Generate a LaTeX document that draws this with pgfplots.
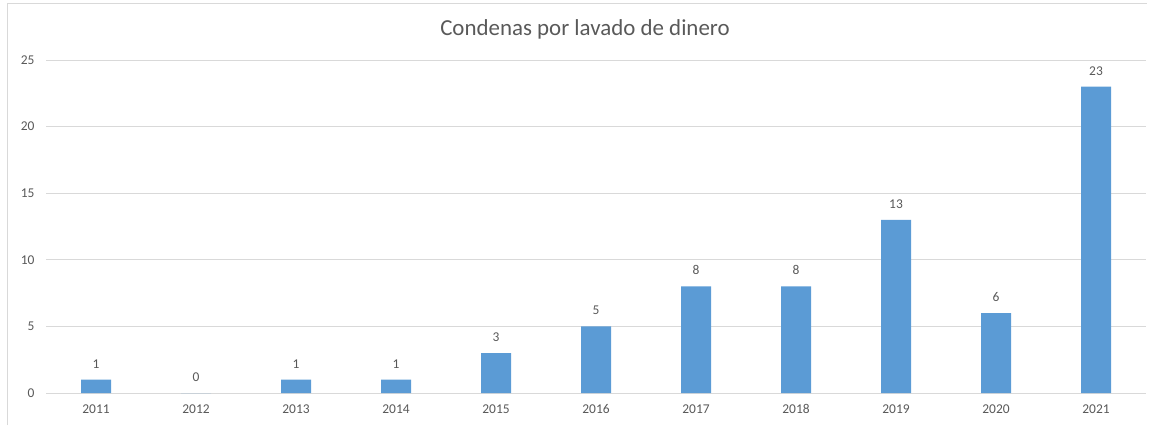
\documentclass[border=0pt]{standalone}
\usepackage{fontspec}
\setmainfont{Carlito}
\usepackage{pgfplots}
\pgfplotsset{compat=1.18}
\definecolor{barblue}{HTML}{5B9BD5}
\definecolor{txtgray}{HTML}{595959}
\definecolor{gridgray}{HTML}{D9D9D9}
\begin{document}
\begin{tikzpicture}[x=1bp,y=1bp]
\useasboundingbox (0,0) rectangle (1155,425);
\draw[gridgray, line width=1bp] (7,0) -- (7,421) -- (1147,421);
\node[text=txtgray, font=\fontsize{23}{27}\selectfont] at (585,396) {Condenas por lavado de dinero};
\begin{axis}[
  at={(46bp,32bp)}, anchor=south west,
  scale only axis, width=1100bp, height=333bp,
  xmin=-0.5, xmax=10.5, ymin=0, ymax=25,
  ytick={0,5,10,15,20,25},
  xtick={0,...,10},
  xticklabels={2011,2012,2013,2014,2015,2016,2017,2018,2019,2020,2021},
  axis x line*=bottom, axis y line*=left,
  x axis line style={gridgray, line width=0.8bp, -},
  y axis line style={draw=none},
  ymajorgrids, grid style={gridgray, line width=0.8bp},
  major tick length=0pt,
  tick label style={text=txtgray, font=\fontsize{13.5}{16}\selectfont},
  /pgf/number format/assume math mode=true,
  yticklabel style={xshift=-8bp},
  xticklabel style={yshift=-8bp},
  ybar, bar width=30bp,
  nodes near coords,
  every node near coord/.append style={text=txtgray, font=\fontsize{13.5}{16}\selectfont, yshift=8bp},
]
\addplot[fill=barblue, draw=none] coordinates {
(0,1) (1,0) (2,1) (3,1) (4,3) (5,5) (6,8) (7,8) (8,13) (9,6) (10,23)
};
\end{axis}
\end{tikzpicture}
\end{document}
